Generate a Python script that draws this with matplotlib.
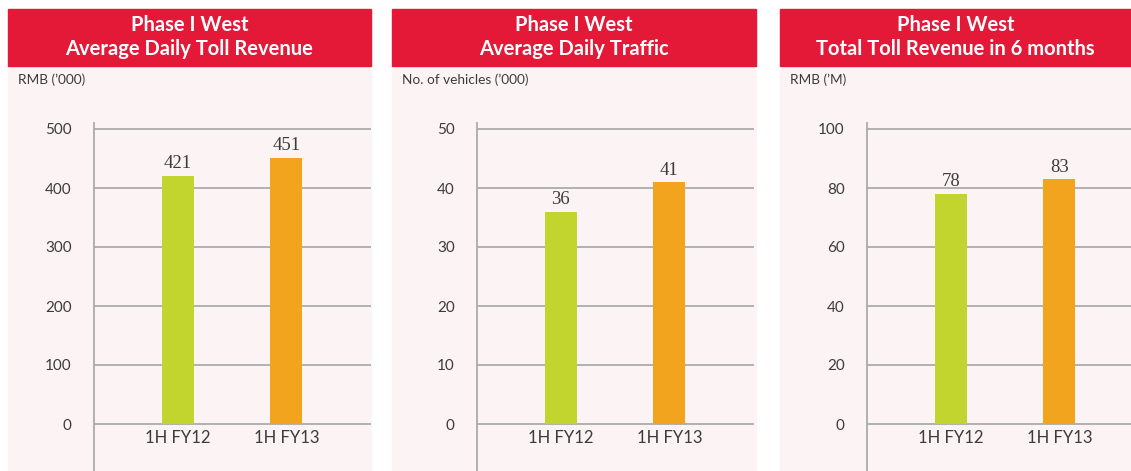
import matplotlib
matplotlib.use("Agg")
import matplotlib.pyplot as plt
from matplotlib.patches import Rectangle

# data
categories = ["1H FY12", "1H FY13"]
titles = [
    "Phase I West\nAverage Daily Toll Revenue",
    "Phase I West\nAverage Daily Traffic",
    "Phase I West\nTotal Toll Revenue in 6 months",
]
units = ["RMB (\u2019000)", "No. of vehicles (\u2019000)", "RMB (\u2019M)"]
revenue_daily = [421, 451]
traffic_daily = [36, 41]
revenue_total = [78, 83]
y_tops = [500, 50, 100]

# styling
W, H = 1131, 471
c_red = "#E31937"
c_bg = "#FCF3F4"
c_bars = ["#C2D52F", "#F2A41F"]
c_grid = "#ABABAB"
c_text = "#3C3C3C"
sans = ["Lato", "DejaVu Sans"]
serif = ["Liberation Serif", "DejaVu Serif"]

# panel geometry in pixels: (panel left, panel right, axis x)
panels = [(8, 371, 94), (392, 756, 477), (780, 1131, 867)]


def main() -> None:
    fig = plt.figure(figsize=(W / 100, H / 100), dpi=100)
    fig.set_facecolor("white")
    series = [revenue_daily, traffic_daily, revenue_total]
    for (pl, pr, axx), title, unit, vals, top in zip(panels, titles, units, series, y_tops):
        # background and header
        fig.patches.append(Rectangle((pl / W, 0), (pr - pl) / W, (H - 65) / H,
                                     transform=fig.transFigure, color=c_bg, zorder=0))
        fig.patches.append(Rectangle((pl / W, (H - 66) / H), (pr - pl) / W, 57 / H,
                                     transform=fig.transFigure, color=c_red, zorder=0))
        fig.text((pl + pr) / 2 / W, (H - 37) / H, title, ha="center", va="center",
                 color="white", fontsize=14.5, fontweight="bold", family=sans,
                 linespacing=1.3)
        fig.text((pl + 10) / W, (H - 80) / H, unit, ha="left", va="center",
                 color=c_text, fontsize=9.8, family=sans)

        # axes
        ax = fig.add_axes([axx / W, 0, 277 / W, 348 / H])
        ax.set_zorder(2)
        ax.patch.set_alpha(0)
        u = top / 295
        ax.set_ylim(-47 * u, top + 6 * u)
        ax.set_xlim(-0.77, 1.78)
        ticks = [top * k / 5 for k in range(6)]
        ax.set_yticks(ticks)
        ax.set_yticklabels([f"{t:g}" for t in ticks], family=sans, fontsize=11,
                           color=c_text)
        ax.tick_params(axis="y", length=0, pad=16)
        ax.set_xticks([])
        for t in ticks:
            ax.axhline(t, color=c_grid, lw=1.3, zorder=1)
        for s in ["top", "right", "bottom"]:
            ax.spines[s].set_visible(False)
        ax.spines["left"].set_color(c_grid)
        ax.spines["left"].set_linewidth(1.3)

        x = list(range(len(categories)))
        ax.bar(x, vals, width=0.295, color=c_bars, zorder=2)
        for xi, v, cat in zip(x, vals, categories):
            ax.annotate(f"{v}", (xi, v), xytext=(0, 2.5), textcoords="offset points",
                        ha="center", va="bottom", fontsize=13.5, family=serif,
                        color=c_text)
            ax.annotate(cat, (xi, 0), xytext=(0, -4), textcoords="offset points",
                        ha="center", va="top", fontsize=12, family=sans,
                        color=c_text)

    fig.savefig("out.png", dpi=100)
    plt.close(fig)


if __name__ == "__main__":
    main()
